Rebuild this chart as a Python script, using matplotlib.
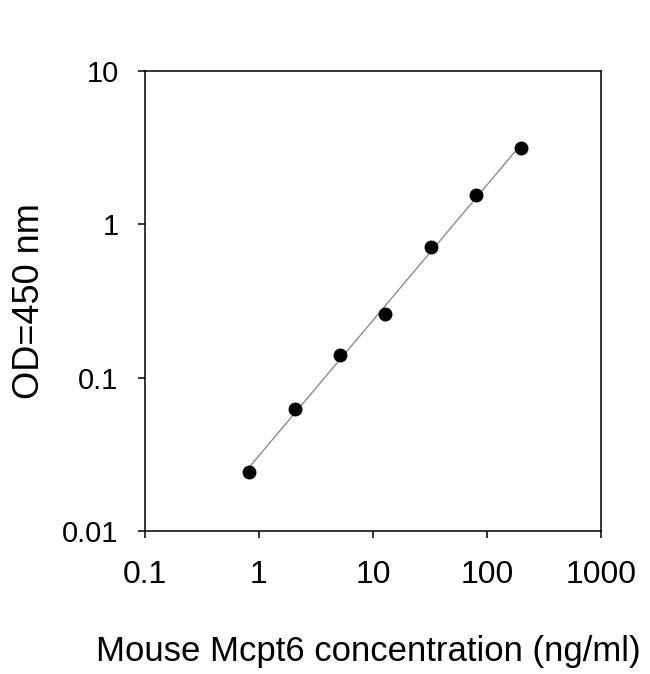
import numpy as np
import matplotlib
matplotlib.use("Agg")
import matplotlib.pyplot as plt
from matplotlib.ticker import FixedLocator, FixedFormatter, NullLocator

plt.rcParams['font.family'] = ['Liberation Sans', 'DejaVu Sans']

# standard curve
conc = [0.82, 2.05, 5.12, 12.8, 32, 80, 200]          # ng/ml
od = [0.0242, 0.0624, 0.140, 0.260, 0.713, 1.55, 3.12]  # OD 450 nm

x_ticks = [0.1, 1, 10, 100, 1000]
x_tick_labels = ["0.1", "1", "10", "100", "1000"]
y_ticks = [0.01, 0.1, 1, 10]
y_tick_labels = ["0.01", "0.1", "1", "10"]

# power-law fit (straight line on log-log) drawn across the data range
b, a = np.polyfit(np.log10(conc), np.log10(od), 1)
xfit = np.array([min(conc), max(conc)])
yfit = 10 ** (a + b * np.log10(xfit))

fig = plt.figure(figsize=(6.5, 6.74), dpi=100)
ax = fig.add_axes([145/650, 143/674, 456/650, 460.3/674])

ax.plot(xfit, yfit, color='#8c8c8c', lw=1.0, zorder=2)
ax.plot(conc, od, 'o', color='black', ms=9, zorder=3)

ax.set_xscale('log')
ax.set_yscale('log')
ax.set_xlim(0.1, 1000)
ax.set_ylim(0.01, 10)

ax.xaxis.set_major_locator(FixedLocator(x_ticks))
ax.xaxis.set_major_formatter(FixedFormatter(x_tick_labels))
ax.yaxis.set_major_locator(FixedLocator(y_ticks))
ax.yaxis.set_major_formatter(FixedFormatter(y_tick_labels))
ax.xaxis.set_minor_locator(NullLocator())
ax.yaxis.set_minor_locator(NullLocator())

ax.tick_params(axis='x', direction='out', length=5, width=1.1, pad=16, labelsize=23, colors='black')
ax.tick_params(axis='y', direction='out', length=5, width=1.1, pad=14, labelsize=21, colors='black')
for s in ax.spines.values():
    s.set_linewidth(1.1)
    s.set_color('black')

ax.set_xlabel("Mouse Mcpt6 concentration (ng/ml)", fontsize=25, va='baseline')
ax.xaxis.set_label_coords(0.49, -0.2824)
ax.set_ylabel("OD=450 nm", fontsize=26)
ax.yaxis.set_label_coords(-0.215, 0.5)

fig.savefig("out.png", dpi=100)
